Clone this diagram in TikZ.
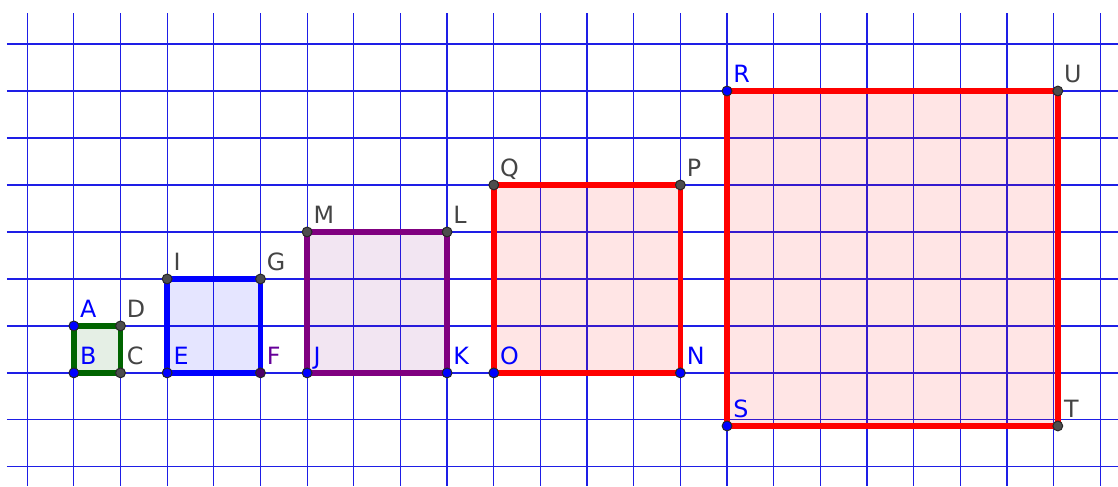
\documentclass[tikz,border=0pt]{standalone}
\usepackage{fontspec}
\setmainfont{DejaVu Sans}

\definecolor{gridblue}{RGB}{30,30,230}
\definecolor{sqgreen}{RGB}{0,100,0}
\definecolor{sqpurple}{RGB}{128,0,128}
\definecolor{ptgrey}{RGB}{77,77,77}
\definecolor{lblgrey}{RGB}{68,68,68}
\definecolor{ptpurple}{RGB}{77,0,102}
\definecolor{lblpurple}{RGB}{102,0,153}

\tikzset{
    gridline/.style={line width=0.75pt, gridblue},
    sqside/.style={line width=3.4pt, draw=#1, fill=#1, fill opacity=0.1, line join=miter},
    dot/.style={fill=#1, draw=black!85, line width=0.6pt},
    lbl/.style={anchor=base west, inner sep=0pt, text=#1, xshift=0.13cm, yshift=0.19cm,
        font=\fontsize{14.5}{17}\selectfont}
}

\begin{document}
\begin{tikzpicture}[x=1cm, y=1.007cm]
        \useasboundingbox (-0.583,-9.41) rectangle (23.38,0.937);
        
        % grid
        \foreach \i in {0,...,23}
            \draw[gridline] (\i,0.66) -- (\i,-9.41);
        \foreach \j in {0,...,9}
            \draw[gridline] (-0.433,-\j) -- (23.38,-\j);
        
        % corners
        \coordinate (A) at (1,-6);
        \coordinate (B) at (1,-7);
        \coordinate (C) at (2,-7);
        \coordinate (D) at (2,-6);
        \coordinate (E) at (3,-7);
        \coordinate (F) at (5,-7);
        \coordinate (G) at (5,-5);
        \coordinate (I) at (3,-5);
        \coordinate (J) at (6,-7);
        \coordinate (K) at (9,-7);
        \coordinate (L) at (9,-4);
        \coordinate (M) at (6,-4);
        \coordinate (O) at (10,-7);
        \coordinate (N) at (14,-7);
        \coordinate (P) at (14,-3);
        \coordinate (Q) at (10,-3);
        \coordinate (R) at (15,-1);
        \coordinate (S) at (15,-8.13);
        \coordinate (T) at (22.09,-8.13);
        \coordinate (U) at (22.09,-1);
        
        % squares
        \draw[sqside=sqgreen] (A) -- (B) -- (C) -- (D) -- cycle;
        \draw[sqside=blue] (E) -- (F) -- (G) -- (I) -- cycle;
        \draw[sqside=sqpurple] (J) -- (K) -- (L) -- (M) -- cycle;
        \draw[sqside=red] (O) -- (N) -- (P) -- (Q) -- cycle;
        \draw[sqside=red] (R) -- (S) -- (T) -- (U) -- cycle;
        
        % points
        \foreach \p in {A,B,E,J,K,O,N,R,S}
            \filldraw[dot=blue] (\p) circle (3pt);
        \foreach \p in {C,D,G,I,L,M,P,Q,T,U}
            \filldraw[dot=ptgrey] (\p) circle (3pt);
        \filldraw[dot=ptpurple] (F) circle (3pt);
        
        % labels
        \node[lbl=blue] (lA) at (A) {A};
        \node[lbl=blue] (lB) at (B) {B};
        \node[lbl=lblgrey] (lC) at (C) {C};
        \node[lbl=lblgrey] (lD) at (D) {D};
        \node[lbl=blue] (lE) at (E) {E};
        \node[lbl=lblpurple] (lF) at (F) {F};
        \node[lbl=lblgrey] (lG) at (G) {G};
        \node[lbl=lblgrey] (lI) at (I) {I};
        \node[lbl=blue] (lJ) at (J) {J};
        \node[lbl=blue] (lK) at (K) {K};
        \node[lbl=lblgrey] (lL) at (L) {L};
        \node[lbl=lblgrey] (lM) at (M) {M};
        \node[lbl=blue] (lO) at (O) {O};
        \node[lbl=blue] (lN) at (N) {N};
        \node[lbl=lblgrey] (lP) at (P) {P};
        \node[lbl=lblgrey] (lQ) at (Q) {Q};
        \node[lbl=blue] (lR) at (R) {R};
        \node[lbl=blue] (lS) at (S) {S};
        \node[lbl=lblgrey] (lT) at (T) {T};
        \node[lbl=lblgrey] (lU) at (U) {U};
    \end{tikzpicture}
\end{document}
